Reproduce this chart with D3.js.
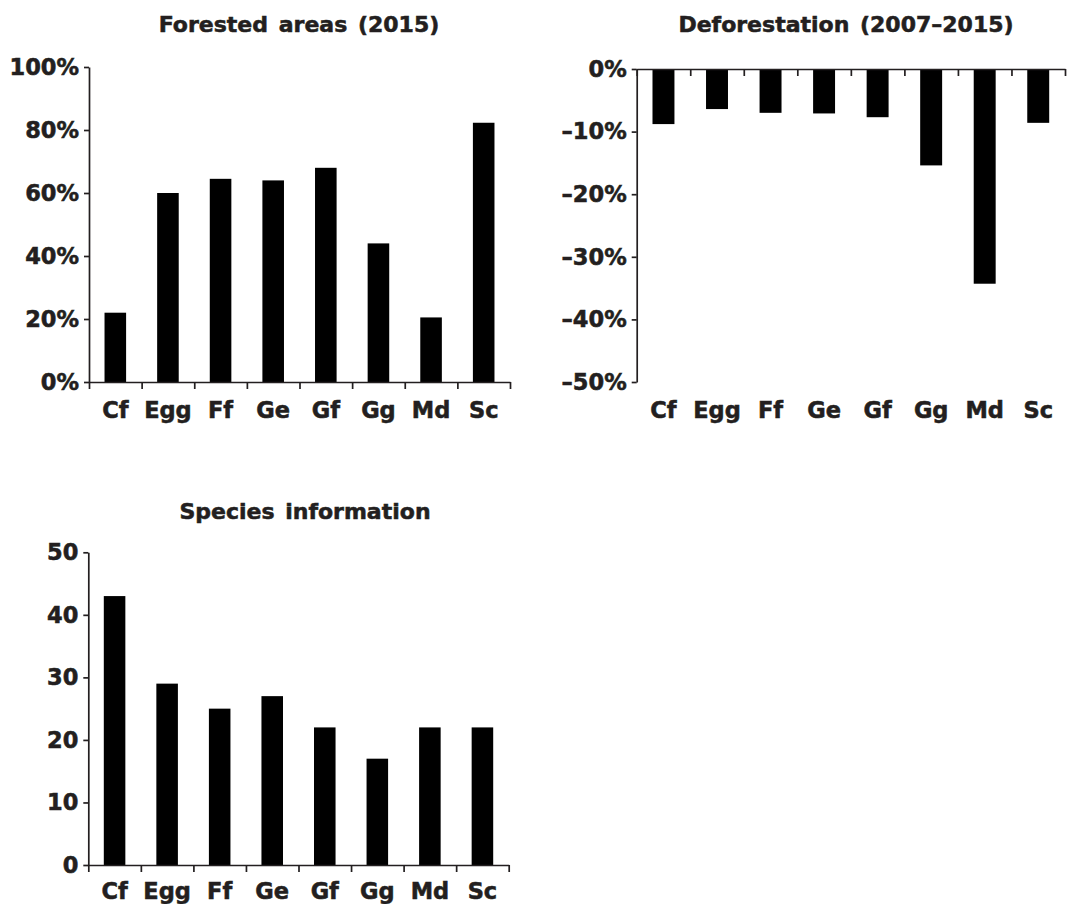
<!DOCTYPE html>
<html>
<head>
<meta charset="utf-8">
<script src="https://cdn.jsdelivr.net/npm/d3@7"></script>
<style>
  body { margin: 0; background: #fff; }
  svg text {
    font-family: "DejaVu Sans", Arial, sans-serif;
    font-weight: bold;
    fill: #231f20;
    stroke: #231f20;
    stroke-width: 0.55px;
  }
  .axis path, .axis line { stroke: #231f20; stroke-width: 1.7px; }
</style>
</head>
<body>
<div id="chart"></div>
<script>
// species codes shared by all three panels
var species = ["Cf", "Egg", "Ff", "Ge", "Gf", "Gg", "Md", "Sc"];

// percent of area forested in 2015
var forested = [22, 60, 64.5, 64, 68, 44, 20.5, 82.3];
// change in forest 2007-2015 (%)
var deforestation = [-8.8, -6.4, -7.0, -7.1, -7.7, -15.4, -34.3, -8.6];
// species information counts
var speciesInfo = [43, 29, 25, 27, 22, 17, 22, 22];

var forestTicks = [0, 20, 40, 60, 80, 100];
var deforTicks = [0, -10, -20, -30, -40, -50];
var infoTicks = [0, 10, 20, 30, 40, 50];

var svg = d3.select("#chart")
  .append("svg")
  .attr("width", 1068)
  .attr("height", 904);

var pct = function(d) { return (d < 0 ? "\u2013" + Math.abs(d) : d) + "%"; };

// draws one panel; box = pixel frame of the plot area
function panel(opts) {
  var box = opts.box;
  var g = svg.append("g");

  var x = d3.scaleBand()
    .domain(species)
    .range([box.left, box.right])
    .paddingInner(0.59)
    .paddingOuter(0.295);

  var xEdges = d3.scaleLinear()
    .domain([0, species.length])
    .range([box.left, box.right]);

  var y = d3.scaleLinear()
    .domain(opts.domain)
    .range([box.bottom, box.top]);

  // bars
  g.selectAll("rect")
    .data(opts.values)
    .enter()
    .append("rect")
    .attr("x", (d, i) => x(species[i]))
    .attr("width", x.bandwidth())
    .attr("y", d => y(Math.max(0, d)))
    .attr("height", d => Math.abs(y(d) - y(0)))
    .attr("fill", "#000");

  // category axis line with ticks between bars
  g.append("g")
    .attr("class", "axis")
    .attr("transform", `translate(0, ${y(0)})`)
    .call(d3.axisBottom(xEdges)
      .tickValues(d3.range(species.length + 1))
      .tickFormat("")
      .tickSize(7)
      .tickSizeOuter(0));

  // category labels
  var lab = g.append("g")
    .attr("transform", `translate(0, ${box.bottom})`)
    .call(d3.axisBottom(x).tickSize(0).tickPadding(opts.labelPad));
  lab.select(".domain").remove();
  lab.selectAll("text").style("font-size", "22.5px");

  // value axis
  var yAxis = g.append("g")
    .attr("class", "axis")
    .attr("transform", `translate(${box.left}, 0)`)
    .call(d3.axisLeft(y)
      .tickValues(opts.ticks)
      .tickFormat(opts.format)
      .tickSize(5)
      .tickPadding(5)
      .tickSizeOuter(0));
  yAxis.selectAll("text").style("font-size", "22.5px");

  // title
  g.append("text")
    .attr("x", opts.titleX)
    .attr("y", opts.titleY)
    .attr("text-anchor", "middle")
    .style("font-size", "22px")
    .style("word-spacing", "3px")
    .text(opts.title);
}

panel({
  box: { left: 89, right: 510, top: 67, bottom: 382 },
  domain: [0, 100],
  values: forested,
  ticks: forestTicks,
  format: pct,
  labelPad: 20,
  title: "Forested areas (2015)",
  titleX: 299, titleY: 32
});

panel({
  box: { left: 636.7, right: 1065, top: 69, bottom: 382 },
  domain: [-50, 0],
  values: deforestation,
  ticks: deforTicks,
  format: pct,
  labelPad: 20,
  title: "Deforestation (2007\u20132015)",
  titleX: 846, titleY: 32
});

panel({
  box: { left: 88.3, right: 508.7, top: 552.3, bottom: 865 },
  domain: [0, 50],
  values: speciesInfo,
  ticks: infoTicks,
  format: d3.format("d"),
  labelPad: 18,
  title: "Species information",
  titleX: 305, titleY: 519
});
</script>
</body>
</html>
